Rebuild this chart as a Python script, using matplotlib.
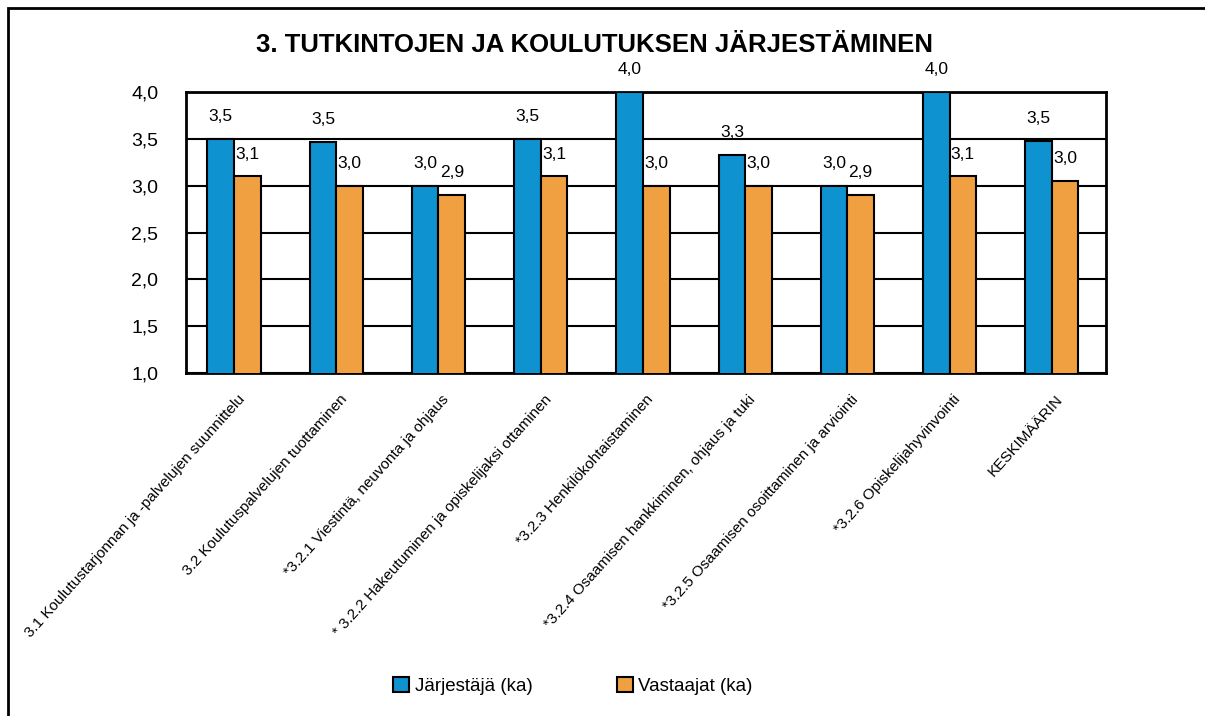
import numpy as np
import matplotlib.pyplot as plt
from matplotlib.patches import Rectangle

plt.rcParams['font.family'] = ['Liberation Sans', 'DejaVu Sans']

categories = ['3.1 Koulutustarjonnan ja -palvelujen suunnittelu',
              '3.2 Koulutuspalvelujen tuottaminen',
              '*3.2.1 Viestintä, neuvonta ja ohjaus',
              '* 3.2.2 Hakeutuminen ja opiskelijaksi ottaminen',
              '*3.2.3 Henkilökohtaistaminen',
              '*3.2.4 Osaamisen hankkiminen, ohjaus ja tuki',
              '*3.2.5 Osaamisen osoittaminen ja arviointi',
              '*3.2.6 Opiskelijahyvinvointi',
              'KESKIMÄÄRIN']
jarjestaja = [3.5, 3.47, 3.0, 3.5, 4.0, 3.33, 3.0, 4.0, 3.48]
vastaajat = [3.1, 3.0, 2.9, 3.1, 3.0, 3.0, 2.9, 3.1, 3.05]
series_names = ['Järjestäjä (ka)', 'Vastaajat (ka)']
yticks = [1.0, 1.5, 2.0, 2.5, 3.0, 3.5, 4.0]

blue = '#0E92D0'
orange = '#F0A040'

fig = plt.figure(figsize=(12.05, 7.16), dpi=100)
ax = fig.add_axes([186/1205, 1-373/716, 920/1205, 281/716])

x = np.arange(len(categories))
w = 0.26
b1 = ax.bar(x - w/2 - 0.03, jarjestaja, w, color=blue, edgecolor='black', linewidth=1.5, zorder=3, label=series_names[0])
b2 = ax.bar(x + w/2 - 0.03, vastaajat, w, color=orange, edgecolor='black', linewidth=1.5, zorder=3, label=series_names[1])

for bars, vals in [(b1, jarjestaja), (b2, vastaajat)]:
    for r, v in zip(bars, vals):
        ax.annotate(('%.1f' % v).replace('.', ','), (r.get_x() + r.get_width()/2, v),
                    xytext=(0, 16), textcoords='offset points', ha='center', va='center',
                    fontsize=12.5, annotation_clip=False)

ax.set_ylim(1.0, 4.0)
ax.set_xlim(-0.5, len(categories) - 0.5)
ax.set_yticks(yticks)
ax.set_yticklabels([('%.1f' % t).replace('.', ',') for t in yticks], fontsize=14)
ax.tick_params(axis='y', length=0, pad=20)
ax.yaxis.grid(True, color='black', linewidth=1.5, zorder=0)
ax.set_xticks(x)
ax.set_xticklabels(categories, rotation=48, ha='right', rotation_mode='anchor', fontsize=11)
ax.tick_params(axis='x', length=0, pad=14)
for s in ax.spines.values():
    s.set_linewidth(2)

fig.text(594/1205, 1-45/716, '3. TUTKINTOJEN JA KOULUTUKSEN JÄRJESTÄMINEN', ha='center', va='center',
         fontsize=18.5, fontweight='bold')

fig.legend(handles=[b1, b2], loc='center', bbox_to_anchor=(573/1205, 1-686/716), ncol=2, frameon=False,
           fontsize=13.5, handlelength=0.85, handleheight=0.85, handletextpad=0.3, columnspacing=4.5)

fig.add_artist(Rectangle((8/1205, -0.1), 1.2, 1 - 8/716 + 0.1, transform=fig.transFigure,
                         fill=False, edgecolor='black', linewidth=2))

fig.savefig('out.png', dpi=100)
